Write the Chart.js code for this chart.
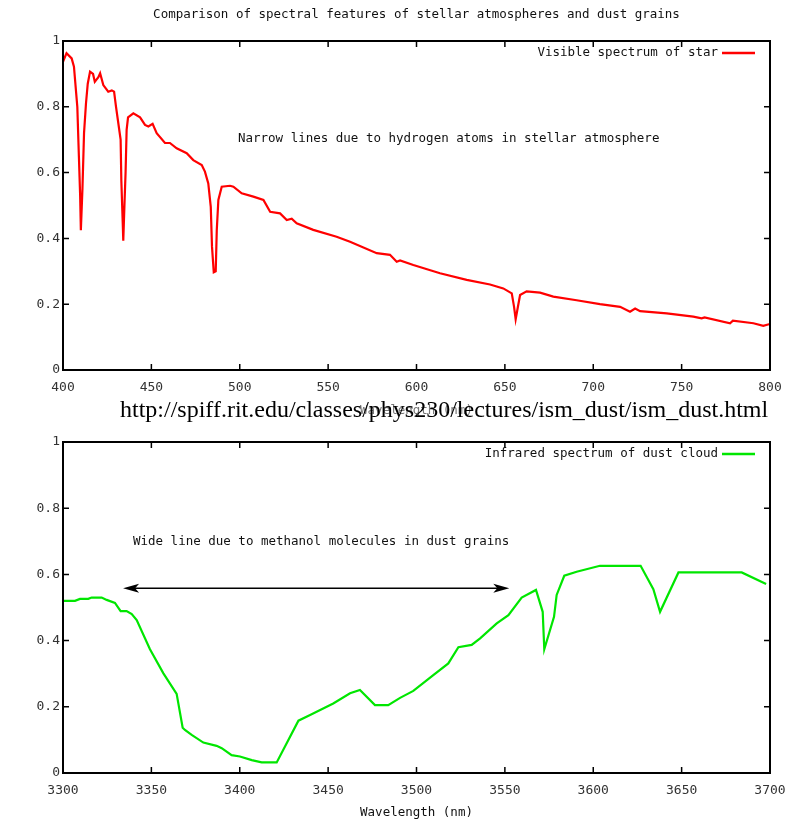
<!DOCTYPE html>
<html>
<head>
<meta charset="utf-8">
<script src="https://cdn.jsdelivr.net/npm/chart.js@4.4.1/dist/chart.umd.min.js"></script>
<style>
  body { margin: 0; background: #fff; width: 793px; height: 822px; position: relative; overflow: hidden; }
  .box { position: absolute; left: 0; width: 793px; }
  #topbox { top: 0; height: 420px; }
  #botbox { top: 420px; height: 402px; }
  #url { position: absolute; left: 120px; top: 397px; font: 24px "Liberation Serif", serif; color: #000; white-space: nowrap; line-height: 1; }
</style>
</head>
<body>
<div class="box" id="topbox"><canvas id="starchart"></canvas></div>
<div class="box" id="botbox"><canvas id="dustchart"></canvas></div>
<div id="url">http://spiff.rit.edu/classes/phys230/lectures/ism_dust/ism_dust.html</div>
<script>
// visible spectrum of star (nm, relative flux)
let starwave = [400, 402, 404.9, 406.2, 408.1, 409, 409.7, 410.1, 411, 411.9, 413, 414, 415.3, 417, 418, 420, 421, 422.8, 425.6, 427.6,
  428.9, 430, 431.3, 432.6, 433, 433.8, 434.1, 434.8, 435.4, 436, 436.8, 439.8, 443.6, 446.4, 448.3, 450.7, 453, 457.7, 460.5, 464.3,
  470, 473.7, 478.5, 480.3, 482.2, 483.6, 484.3, 485.3, 486.4, 487, 487.9, 489.8, 494.5, 496.4, 501.1, 507.7, 513.4, 517.2, 522.8, 526.6,
  529.4, 532.2, 541.6, 554.8, 562.4, 577.5, 585, 588.8, 590.7, 598.2, 613.3, 628.4, 641.6, 649.1, 653.9, 655.2, 656.1, 657.3, 658.6, 662.3,
  669.9, 677.4, 690.6, 703.8, 715.2, 720.8, 723.7, 726.5, 741.6, 756.6, 761.3, 763, 777.4, 779, 790.6, 796.2, 800]
let starflux = [0.937, 0.963, 0.947, 0.922, 0.80, 0.648, 0.53, 0.425, 0.55, 0.72, 0.81, 0.87, 0.907, 0.90, 0.876, 0.89, 0.902, 0.866, 0.846, 0.85,
  0.846, 0.80, 0.75, 0.70, 0.577, 0.446, 0.393, 0.507, 0.60, 0.73, 0.768, 0.78, 0.768, 0.745, 0.74, 0.748, 0.72, 0.69, 0.69, 0.674,
  0.659, 0.638, 0.623, 0.603, 0.567, 0.496, 0.375, 0.297, 0.30, 0.425, 0.517, 0.557, 0.56, 0.557, 0.537, 0.527, 0.517, 0.481, 0.476, 0.456,
  0.46, 0.446, 0.426, 0.405, 0.39, 0.355, 0.35, 0.329, 0.333, 0.319, 0.294, 0.274, 0.26, 0.248, 0.233, 0.192, 0.154, 0.19, 0.228, 0.239,
  0.235, 0.223, 0.212, 0.20, 0.192, 0.177, 0.187, 0.179, 0.172, 0.162, 0.157, 0.16, 0.142, 0.15, 0.142, 0.134, 0.14]

// infrared spectrum of dust cloud
let dustwave = [3300, 3306.8, 3309.6, 3314.3, 3316.2, 3321.9, 3324.7, 3329.4, 3332.6, 3336, 3338.9, 3341.7, 3349.2, 3356.8, 3364.3, 3367.7,
  3369, 3372.8, 3379.4, 3386.9, 3389.8, 3395.4, 3400.1, 3406.8, 3412.4, 3420.9, 3433.2, 3439.8, 3452.9, 3462.4, 3468, 3476.5, 3484,
  3490.7, 3498.2, 3509.5, 3518, 3523.7, 3531.2, 3536, 3545.4, 3552, 3559.5, 3567.6, 3571.4, 3572.3, 3577.8, 3579.3, 3583.6, 3590.6,
  3603.8, 3626.8, 3634, 3637.8, 3648.2, 3684, 3697.8]
let dustflux = [0.52, 0.52, 0.526, 0.526, 0.53, 0.53, 0.523, 0.514, 0.489, 0.489, 0.48, 0.462, 0.374, 0.301, 0.239, 0.137,
  0.13, 0.115, 0.092, 0.082, 0.075, 0.054, 0.05, 0.039, 0.032, 0.032, 0.158, 0.175, 0.21, 0.241, 0.251, 0.205, 0.205,
  0.227, 0.248, 0.296, 0.331, 0.38, 0.387, 0.407, 0.452, 0.477, 0.53, 0.553, 0.487, 0.374, 0.472, 0.538, 0.596, 0.608,
  0.626, 0.626, 0.555, 0.487, 0.606, 0.606, 0.571]

// axis ranges and tick steps
let starxrange = [400, 800]
let dustxrange = [3300, 3700]
let xstep = 50
let yrange = [0, 1]
let ystep = 0.2

// methanol band arrow (nm), and its height
let arrowends = [3334, 3552.5]
let arrowlevel = 0.558

let mono = "'DejaVu Sans Mono', monospace"

function points(xs, ys) {
    let out = []
    for (let i = 0; i < xs.length; i++) out.push({x: xs[i], y: ys[i]})
    return out
}

// gnuplot look: box border, inward ticks, legend + labels inside the plot
const gnuframe = {
    id: 'gnuframe',
    afterDraw(chart, args, opts) {
        let ctx = chart.ctx
        let a = chart.chartArea
        let xs = chart.scales.x
        let ys = chart.scales.y
        ctx.save()
        ctx.strokeStyle = '#000'
        ctx.lineWidth = 1.5
        ctx.beginPath()
        for (let t of xs.ticks) {
            let px = xs.getPixelForValue(t.value)
            ctx.moveTo(px, a.bottom); ctx.lineTo(px, a.bottom - 6)
            ctx.moveTo(px, a.top); ctx.lineTo(px, a.top + 6)
        }
        for (let t of ys.ticks) {
            let py = ys.getPixelForValue(t.value)
            ctx.moveTo(a.left, py); ctx.lineTo(a.left + 6, py)
            ctx.moveTo(a.right, py); ctx.lineTo(a.right - 6, py)
        }
        ctx.stroke()
        ctx.lineWidth = 2
        ctx.strokeRect(a.left, a.top, a.right - a.left, a.bottom - a.top)

        ctx.fillStyle = '#111'
        ctx.font = '12.5px ' + mono
        ctx.textBaseline = 'middle'
        if (opts.title) {
            ctx.textAlign = 'center'
            ctx.fillText(opts.title, (a.left + a.right) / 2, 15)
        }
        // legend entry, text then line sample
        let ly = a.top + 12
        ctx.textAlign = 'right'
        ctx.fillText(chart.data.datasets[0].label, a.right - 52, ly)
        ctx.strokeStyle = chart.data.datasets[0].borderColor
        ctx.lineWidth = 2.5
        ctx.beginPath()
        ctx.moveTo(a.right - 48, ly); ctx.lineTo(a.right - 15, ly)
        ctx.stroke()
        // note text
        if (opts.note) {
            ctx.textAlign = 'left'
            ctx.fillText(opts.note.text, xs.getPixelForValue(opts.note.x), ys.getPixelForValue(opts.note.y))
        }
        // double headed arrow
        if (opts.arrow) {
            let x1 = xs.getPixelForValue(opts.arrow[0])
            let x2 = xs.getPixelForValue(opts.arrow[1])
            let y = ys.getPixelForValue(opts.arrow[2])
            ctx.strokeStyle = '#000'
            ctx.fillStyle = '#000'
            ctx.lineWidth = 1.5
            ctx.beginPath()
            ctx.moveTo(x1 + 10, y); ctx.lineTo(x2 - 10, y)
            ctx.stroke()
            ctx.beginPath()
            ctx.moveTo(x1, y); ctx.lineTo(x1 + 16, y - 4.5); ctx.lineTo(x1 + 12, y); ctx.lineTo(x1 + 16, y + 4.5); ctx.closePath()
            ctx.moveTo(x2, y); ctx.lineTo(x2 - 16, y - 4.5); ctx.lineTo(x2 - 12, y); ctx.lineTo(x2 - 16, y + 4.5); ctx.closePath()
            ctx.fill()
        }
        ctx.restore()
    }
}

function makechart(id, label, color, wave, flux, xrange, topgap, axisheight, titlecolor, extra) {
    return new Chart(document.getElementById(id), {
        type: 'line',
        data: {
            datasets: [{
                label: label,
                data: points(wave, flux),
                borderColor: color,
                borderWidth: 2.2,
                pointRadius: 0,
                tension: 0,
                fill: false
            }]
        },
        options: {
            responsive: true,
            maintainAspectRatio: false,
            animation: false,
            layout: { padding: { top: topgap, right: 23, left: 0, bottom: 0 } },
            plugins: {
                legend: { display: false },
                tooltip: { enabled: false },
                gnuframe: extra
            },
            scales: {
                x: {
                    type: 'linear',
                    min: xrange[0],
                    max: xrange[1],
                    grid: { display: false, drawTicks: false, tickLength: 0 },
                    border: { display: false },
                    ticks: { stepSize: xstep, padding: 10, color: '#333', font: { family: mono, size: 13 }, callback: v => String(v) },
                    title: { display: true, text: 'Wavelength (nm)', color: titlecolor, padding: { top: 0, bottom: 2 }, font: { family: mono, size: 12.5 } },
                    afterFit: s => { s.height = axisheight; s.paddingLeft = 0; s.paddingRight = 0 }
                },
                y: {
                    min: yrange[0],
                    max: yrange[1],
                    grid: { display: false, drawTicks: false, tickLength: 0 },
                    border: { display: false },
                    ticks: {
                        stepSize: ystep, padding: 3, color: '#333', font: { family: mono, size: 13 },
                        callback: v => (Math.abs(v) < 1e-9 || Math.abs(v - 1) < 1e-9) ? String(Math.round(v)) : v.toFixed(1)
                    },
                    afterFit: s => { s.width = 63 }
                }
            }
        },
        plugins: [gnuframe]
    })
}

makechart('starchart', 'Visible spectrum of star', '#ff0000', starwave, starflux, starxrange, 41, 50, '#777', {
    title: 'Comparison of spectral features of stellar atmospheres and dust grains',
    note: { text: 'Narrow lines due to hydrogen atoms in stellar atmosphere', x: 499, y: 0.702 }
})

makechart('dustchart', 'Infrared spectrum of dust cloud', '#00e600', dustwave, dustflux, dustxrange, 22, 49, '#111', {
    note: { text: 'Wide line due to methanol molecules in dust grains', x: 3339.6, y: 0.70 },
    arrow: [arrowends[0], arrowends[1], arrowlevel]
})
</script>
</body>
</html>
